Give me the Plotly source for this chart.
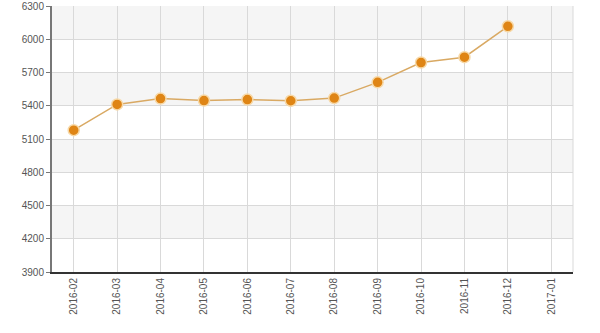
import plotly.graph_objects as go

months = ["2016-02", "2016-03", "2016-04", "2016-05", "2016-06", "2016-07",
          "2016-08", "2016-09", "2016-10", "2016-11", "2016-12", "2017-01"]
prices = [5180, 5412, 5465, 5447, 5456, 5445, 5469, 5611, 5790, 5838, 6117, None]
y_ticks = [3900, 4200, 4500, 4800, 5100, 5400, 5700, 6000, 6300]

fig = go.Figure()

# alternating horizontal bands
shapes = []
for i in range(len(y_ticks) - 1):
    if i % 2 == 1:
        shapes.append(dict(type="rect", xref="paper", yref="y", x0=0, x1=1,
                           y0=y_ticks[i], y1=y_ticks[i + 1],
                           fillcolor="#f5f5f5", line=dict(width=0), layer="below"))
shapes.append(dict(type="line", xref="paper", yref="paper", x0=1, x1=1, y0=0, y1=1,
                   line=dict(color="#d9d9d9", width=1), layer="below"))

fig.add_trace(go.Scatter(
    x=months, y=prices, mode="lines+markers",
    line=dict(color="#d9a963", width=1.5),
    marker=dict(color="#df8515", size=11, line=dict(color="#f7d9a8", width=1.5)),
    connectgaps=False, showlegend=False,
))

fig.update_layout(
    width=600, height=333,
    margin=dict(l=52, r=27, t=6, b=61, autoexpand=False),
    paper_bgcolor="white", plot_bgcolor="white",
    shapes=shapes,
    font=dict(family="Liberation Sans, Arial, sans-serif", color="#555555", size=11),
)
fig.update_xaxes(
    type="category", categoryorder="array", categoryarray=months,
    range=[-0.5, len(months) - 0.5],
    tickangle=-90, tickfont=dict(size=10, color="#555555"),
    showgrid=True, gridcolor="#d9d9d9", gridwidth=1,
    showline=True, linecolor="#333333", linewidth=2,
    ticks="", ticklen=0, automargin=False,
)
fig.update_yaxes(
    range=[y_ticks[0], y_ticks[-1]], tickvals=y_ticks,
    ticktext=[str(v) for v in y_ticks],
    tickfont=dict(size=10, color="#555555"),
    showgrid=True, gridcolor="#d9d9d9", gridwidth=1,
    showline=True, linecolor="#777777", linewidth=2,
    ticks="outside", ticklen=4, tickcolor="#777777",
    zeroline=False, ticklabeloverflow="allow", automargin=False,
)

fig.write_html("out.html")
